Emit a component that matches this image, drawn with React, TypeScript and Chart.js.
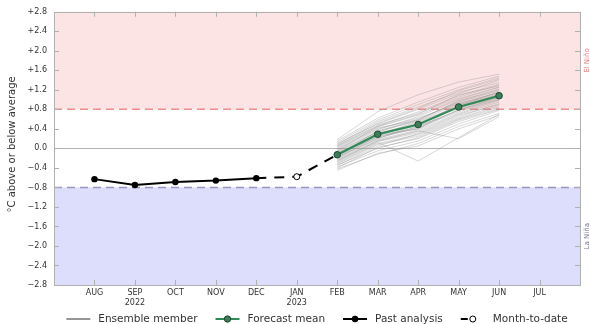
import { useEffect, useRef } from 'react';
import { Chart, registerables } from 'chart.js';

Chart.register(...registerables);

const FONT = '"DejaVu Sans", "Liberation Sans", sans-serif';

// ---- data ----
const monthLabels = ['AUG', 'SEP', 'OCT', 'NOV', 'DEC', 'JAN', 'FEB', 'MAR', 'APR', 'MAY', 'JUN', 'JUL'];
const yearLabels = ['', '2022', '', '', '', '2023', '', '', '', '', '', ''];

const pastMonths = ['AUG', 'SEP', 'OCT', 'NOV', 'DEC'];
const pastValues = [-0.63, -0.75, -0.69, -0.66, -0.61];

const monthToDateMonths = ['JAN'];
const monthToDateValues = [-0.58];

const forecastMonths = ['FEB', 'MAR', 'APR', 'MAY', 'JUN'];
const forecastMean = [-0.13, 0.29, 0.49, 0.85, 1.08];

const ensembleMembers: number[][] = [
  [-0.13, 0.30, 0.52, 0.88, 1.10],
  [-0.25, 0.15, 0.35, 0.70, 0.95],
  [0.05, 0.48, 0.72, 1.05, 1.30],
  [-0.40, 0.02, 0.20, 0.55, 0.80],
  [-0.08, 0.35, 0.60, 0.95, 1.18],
  [0.15, 0.62, 0.95, 1.25, 1.48],
  [-0.30, 0.10, 0.28, 0.62, 0.88],
  [-0.18, 0.25, 0.40, 0.80, 1.02],
  [0.00, 0.42, 0.58, 0.98, 1.20],
  [-0.45, -0.10, 0.05, 0.40, 0.68],
  [-0.20, 0.20, 0.45, 0.78, 1.05],
  [0.08, 0.55, 0.85, 1.15, 1.35],
  [-0.12, 0.32, 0.48, 0.90, 1.12],
  [-0.35, 0.05, 0.30, 0.65, 0.92],
  [-0.05, 0.38, 0.65, 1.00, 1.25],
  [0.18, 0.75, 1.10, 1.36, 1.52],
  [-0.28, 0.12, -0.26, 0.22, 0.70],
  [-0.15, 0.28, 0.55, 0.85, 1.08],
  [-0.10, 0.22, 0.42, 0.75, 1.00],
  [0.02, 0.45, 0.70, 1.10, 1.28],
  [-0.22, 0.18, 0.38, 0.72, 0.98],
  [-0.38, -0.05, 0.15, 0.50, 0.78],
  [0.10, 0.50, 0.80, 1.12, 1.40],
  [-0.16, 0.26, 0.50, 0.82, 1.06],
  [-0.02, 0.40, 0.62, 0.92, 1.15],
  [-0.32, 0.08, 0.25, 0.60, 0.85],
  [-0.06, 0.33, 0.58, 0.96, 1.22],
  [0.12, 0.58, 0.90, 1.20, 1.45],
  [-0.26, 0.14, 0.32, 0.68, 0.90],
  [-0.11, 0.30, 0.46, 0.86, 1.10],
  [-0.42, -0.12, 0.10, 0.45, 0.72],
  [0.04, 0.46, 0.75, 1.08, 1.32],
  [-0.20, 0.24, 0.44, 0.78, 1.00],
  [-0.14, 0.36, 0.56, 0.92, 1.14],
  [-0.24, 0.16, 0.36, 0.20, 0.65],
  [0.06, 0.52, 0.82, 1.18, 1.42],
  [-0.09, 0.28, 0.40, 0.88, 1.16],
  [-0.34, 0.00, 0.22, 0.58, 0.82],
  [-0.04, 0.44, 0.68, 1.02, 1.26],
  [-0.17, 0.20, 0.50, 0.84, 1.04],
];

const yTickValues = [-2.8, -2.4, -2.0, -1.6, -1.2, -0.8, -0.4, 0.0, 0.4, 0.8, 1.2, 1.6, 2.0, 2.4, 2.8];
const yMin = -2.8;
const yMax = 2.8;
const elNinoThreshold = 0.8;
const laNinaThreshold = -0.8;
const elNinoLabelValue = 1.8;
const laNinaLabelValue = -1.8;

const legendItems = [
  { label: 'Ensemble member', kind: 'ens' },
  { label: 'Forecast mean', kind: 'mean' },
  { label: 'Past analysis', kind: 'past' },
  { label: 'Month-to-date', kind: 'mtd' },
];

const GREEN_LINE = '#2f8a55';
const GREEN_FILL = '#3c7d57';
const GREEN_EDGE = '#1d4a33';

const xOf = (m: string) => monthLabels.indexOf(m) + 1;
const pts = (months: string[], vals: number[]) => months.map((m, i) => ({ x: xOf(m), y: vals[i] }));

const fmtY = (v: number) => {
  if (Math.abs(v) < 1e-9) return '0.0';
  return (v > 0 ? '+' : '\u2212') + Math.abs(v).toFixed(1);
};

const decorPlugin = {
  id: 'decor',
  beforeDatasetsDraw(chart: any) {
    const { ctx, chartArea: ca, scales } = chart;
    const ys = scales.y;
    ctx.save();
    const yTop = ys.getPixelForValue(yMax);
    const yEl = ys.getPixelForValue(elNinoThreshold);
    const yLa = ys.getPixelForValue(laNinaThreshold);
    const yBot = ys.getPixelForValue(yMin);
    ctx.fillStyle = 'rgb(253,228,228)';
    ctx.fillRect(ca.left, yTop, ca.right - ca.left, yEl - yTop);
    ctx.fillStyle = 'rgb(221,221,252)';
    ctx.fillRect(ca.left, yLa, ca.right - ca.left, yBot - yLa);
    // zero line
    const y0 = Math.round(ys.getPixelForValue(0)) + 0.5;
    ctx.strokeStyle = '#b4b4b4';
    ctx.lineWidth = 1;
    ctx.beginPath();
    ctx.moveTo(ca.left, y0);
    ctx.lineTo(ca.right, y0);
    ctx.stroke();
    // thresholds
    ctx.lineWidth = 1.5;
    ctx.setLineDash([8, 5]);
    ctx.strokeStyle = 'rgb(236,140,140)';
    ctx.beginPath();
    ctx.moveTo(ca.left, yEl);
    ctx.lineTo(ca.right, yEl);
    ctx.stroke();
    ctx.strokeStyle = 'rgb(150,150,195)';
    ctx.beginPath();
    ctx.moveTo(ca.left, yLa);
    ctx.lineTo(ca.right, yLa);
    ctx.stroke();
    ctx.restore();
  },
  afterDraw(chart: any) {
    const { ctx, chartArea: ca, scales } = chart;
    const xs = scales.x;
    const ys = scales.y;
    ctx.save();
    // frame
    ctx.strokeStyle = '#b0b0b0';
    ctx.lineWidth = 1;
    ctx.strokeRect(Math.round(ca.left) + 0.5, Math.round(ca.top) + 0.5, Math.round(ca.right - ca.left), Math.round(ca.bottom - ca.top));
    // inward ticks
    const tl = 5;
    ctx.beginPath();
    monthLabels.forEach((m) => {
      const px = Math.round(xs.getPixelForValue(xOf(m))) + 0.5;
      ctx.moveTo(px, ca.bottom);
      ctx.lineTo(px, ca.bottom - tl);
      ctx.moveTo(px, ca.top);
      ctx.lineTo(px, ca.top + tl);
    });
    yTickValues.forEach((v) => {
      const py = Math.round(ys.getPixelForValue(v)) + 0.5;
      ctx.moveTo(ca.left, py);
      ctx.lineTo(ca.left + tl, py);
      ctx.moveTo(ca.right, py);
      ctx.lineTo(ca.right - tl, py);
    });
    ctx.stroke();

    // side labels
    ctx.font = `7px ${FONT}`;
    ctx.textAlign = 'center';
    ctx.textBaseline = 'middle';
    const sideX = ca.right + 7;
    ctx.save();
    ctx.translate(sideX, ys.getPixelForValue(elNinoLabelValue));
    ctx.rotate(-Math.PI / 2);
    ctx.fillStyle = 'rgb(232,120,120)';
    ctx.fillText('El Niño', 0, 0);
    ctx.restore();
    ctx.save();
    ctx.translate(sideX, ys.getPixelForValue(laNinaLabelValue));
    ctx.rotate(-Math.PI / 2);
    ctx.fillStyle = 'rgb(120,120,150)';
    ctx.fillText('La Niña', 0, 0);
    ctx.restore();

    // y title
    ctx.save();
    ctx.translate(12, (ca.top + ca.bottom) / 2 - 4);
    ctx.rotate(-Math.PI / 2);
    ctx.font = `10px ${FONT}`;
    ctx.fillStyle = '#333';
    ctx.fillText('°C above or below average', 0, 0);
    ctx.restore();

    // legend
    ctx.font = `10.5px ${FONT}`;
    ctx.textAlign = 'left';
    ctx.textBaseline = 'middle';
    const handleW = 24;
    const gapText = 8;
    const gapItem = 18;
    const widths = legendItems.map((it) => ctx.measureText(it.label).width);
    const total = widths.reduce((a, b) => a + b, 0) + legendItems.length * (handleW + gapText) + gapItem * (legendItems.length - 1);
    let x = (ca.left + ca.right) / 2 - total / 2;
    const ly = 319;
    legendItems.forEach((it, i) => {
      const cx = x + handleW / 2;
      ctx.lineWidth = 2;
      ctx.setLineDash([]);
      if (it.kind === 'ens') {
        ctx.strokeStyle = 'rgb(150,150,150)';
        ctx.beginPath();
        ctx.moveTo(x, ly);
        ctx.lineTo(x + handleW, ly);
        ctx.stroke();
      } else if (it.kind === 'mean') {
        ctx.strokeStyle = GREEN_LINE;
        ctx.beginPath();
        ctx.moveTo(x, ly);
        ctx.lineTo(x + handleW, ly);
        ctx.stroke();
        ctx.beginPath();
        ctx.arc(cx, ly, 3.2, 0, Math.PI * 2);
        ctx.fillStyle = GREEN_FILL;
        ctx.fill();
        ctx.lineWidth = 1;
        ctx.strokeStyle = GREEN_EDGE;
        ctx.stroke();
      } else if (it.kind === 'past') {
        ctx.strokeStyle = '#000';
        ctx.beginPath();
        ctx.moveTo(x, ly);
        ctx.lineTo(x + handleW, ly);
        ctx.stroke();
        ctx.beginPath();
        ctx.arc(cx, ly, 3.2, 0, Math.PI * 2);
        ctx.fillStyle = '#000';
        ctx.fill();
      } else {
        ctx.strokeStyle = '#000';
        ctx.beginPath();
        ctx.moveTo(x, ly);
        ctx.lineTo(x + 7, ly);
        ctx.stroke();
        ctx.beginPath();
        ctx.arc(cx, ly, 3, 0, Math.PI * 2);
        ctx.fillStyle = '#fff';
        ctx.fill();
        ctx.lineWidth = 1;
        ctx.stroke();
      }
      ctx.fillStyle = '#333';
      ctx.fillText(it.label, x + handleW + gapText, ly);
      x += handleW + gapText + widths[i] + gapItem;
    });
    ctx.restore();
  },
};

export default function App() {
  const ref = useRef<HTMLCanvasElement | null>(null);
  useEffect(() => {
    if (!ref.current) return;
    const lastPast = pastMonths.length - 1;
    const connector = [
      { x: xOf(pastMonths[lastPast]), y: pastValues[lastPast] },
      { x: xOf(monthToDateMonths[0]), y: monthToDateValues[0] },
      { x: xOf(forecastMonths[0]), y: forecastMean[0] },
    ];
    const datasets: any[] = [
      {
        label: 'Forecast mean',
        data: pts(forecastMonths, forecastMean),
        borderColor: GREEN_LINE,
        borderWidth: 2,
        pointRadius: 3.3,
        pointBackgroundColor: GREEN_FILL,
        pointBorderColor: GREEN_EDGE,
        pointBorderWidth: 1,
        order: 0,
      },
      {
        label: 'Month-to-date',
        data: pts(monthToDateMonths, monthToDateValues),
        showLine: false,
        pointRadius: 3,
        pointBackgroundColor: '#fff',
        pointBorderColor: '#000',
        pointBorderWidth: 1,
        order: 1,
      },
      {
        label: 'Past analysis',
        data: pts(pastMonths, pastValues),
        borderColor: '#000',
        borderWidth: 2,
        pointRadius: 3.2,
        pointBackgroundColor: '#000',
        pointBorderColor: '#000',
        pointBorderWidth: 0,
        order: 2,
      },
      {
        label: 'connector',
        data: connector,
        borderColor: '#000',
        borderWidth: 2,
        borderDash: [10, 8],
        pointRadius: 0,
        order: 3,
      },
      ...ensembleMembers.map((m, i) => ({
        label: 'Ensemble member ' + (i + 1),
        data: pts(forecastMonths, m),
        borderColor: 'rgba(140,140,140,0.35)',
        borderWidth: 1,
        pointRadius: 0,
        order: 10,
      })),
    ];
    const chart = new Chart(ref.current, {
      type: 'line',
      data: { datasets },
      plugins: [decorPlugin],
      options: {
        animation: false,
        responsive: false,
        layout: { padding: { top: 9, right: 10, left: 0, bottom: 0 } },
        plugins: { legend: { display: false }, tooltip: { enabled: false } },
        scales: {
          x: {
            type: 'linear',
            min: 0,
            max: monthLabels.length + 1,
            grid: { display: false, drawTicks: false },
            border: { display: false },
            afterBuildTicks: (scale: any) => {
              scale.ticks = monthLabels.map((_, i) => ({ value: i + 1 }));
            },
            afterFit: (scale: any) => {
              scale.height = 39;
            },
            ticks: {
              autoSkip: false,
              maxRotation: 0,
              padding: 3,
              color: '#333',
              font: { family: FONT, size: 8, lineHeight: 1.25 },
              callback: (v: any) => {
                const i = Math.round(Number(v)) - 1;
                if (i < 0 || i >= monthLabels.length) return '';
                return yearLabels[i] ? [monthLabels[i], yearLabels[i]] : monthLabels[i];
              },
            },
          },
          y: {
            type: 'linear',
            min: yMin,
            max: yMax,
            grid: { display: false, drawTicks: false },
            border: { display: false },
            afterBuildTicks: (scale: any) => {
              scale.ticks = yTickValues.map((v) => ({ value: v }));
            },
            afterFit: (scale: any) => {
              scale.width = 54;
            },
            ticks: {
              autoSkip: false,
              padding: 7,
              color: '#333',
              font: { family: FONT, size: 8 },
              callback: (v: any) => fmtY(Number(v)),
            },
          },
        },
      },
    });
    return () => chart.destroy();
  }, []);
  return (
    <div style={{ position: 'fixed', left: 0, top: 0, width: 590, height: 324, background: '#fff' }}>
      <canvas ref={ref} width={590} height={324} style={{ width: 590, height: 324 }} />
    </div>
  );
}
